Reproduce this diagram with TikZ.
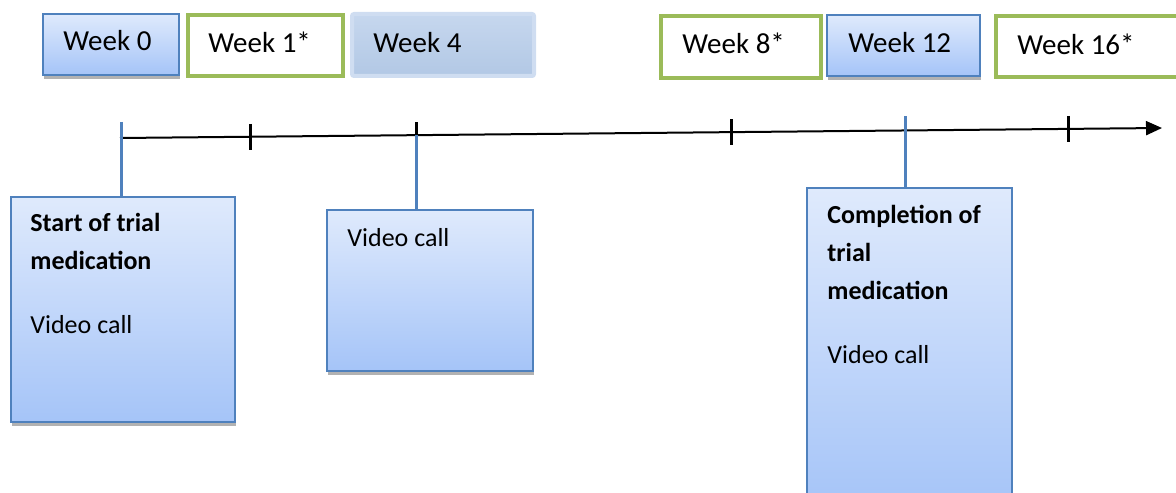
\documentclass[tikz,border=0pt]{standalone}
\usepackage{fontspec}
\setmainfont{Carlito}
\usetikzlibrary{
  arrows.meta,
  shadows,
  calc}

\definecolor{boxblue}{RGB}{79,129,189}
\definecolor{boxtop}{RGB}{223,234,252}
\definecolor{boxbot}{RGB}{165,196,248}
\definecolor{wkgreen}{RGB}{155,187,89}
\definecolor{wkgreytop}{RGB}{198,215,238}
\definecolor{wkgreybot}{RGB}{178,200,229}
\definecolor{wkedge}{RGB}{207,221,241}

\tikzset{
  bluebox/.style={draw=boxblue,line width=0.8pt,top color=boxtop,bottom color=boxbot,
    drop shadow={shadow xshift=0.5pt,shadow yshift=-2pt,opacity=.3,fill=black},
    anchor=north west,inner sep=0pt},
  greenbox/.style={draw=wkgreen,line width=2pt,fill=white,anchor=north west,inner sep=0pt},
  greybox/.style={draw=wkedge,line width=2pt,top color=wkgreytop,bottom color=wkgreybot,
    rounded corners=1pt,anchor=north west,inner sep=0pt},
  wk/.style={anchor=base west,inner sep=0pt,font=\fontsize{14.5}{17}\selectfont},
  note/.style={anchor=north west,inner sep=0pt,align=left,font=\fontsize{13}{19}\selectfont},
  tick/.style={line width=1.5pt},
  stem/.style={draw=boxblue,line width=1.5pt}
}

\begin{document}
\begin{tikzpicture}[x=0.5pt,y=-0.5pt]
\clip (0,0) rectangle (1176,492);

\node[bluebox,minimum width=68pt,minimum height=30.5pt] (w0) at (42,13) {};
\node[greenbox,minimum width=77.5pt,minimum height=30.5pt] (w1) at (186,13) {};
\node[greybox,minimum width=91pt,minimum height=31pt] (w4) at (350,12) {};
\node[greenbox,minimum width=80pt,minimum height=31pt] (w8) at (659,14) {};
\node[bluebox,minimum width=76.5pt,minimum height=30.5pt] (w12) at (826,14) {};
\node[greenbox,minimum width=120pt,minimum height=30.5pt] (w16) at (994,14) {};

\node[wk] (w0t) at ($(w0.north west)+(21,38)$) {Week 0};
\node[wk] (w1t) at ($(w1.north west)+(22,40)$) {Week 1*};
\node[wk] (w4t) at ($(w4.north west)+(23,41)$) {Week 4};
\node[wk] (w8t) at ($(w8.north west)+(23,40)$) {Week 8*};
\node[wk] (w12t) at ($(w12.north west)+(22,39)$) {Week 12};
\node[wk] (w16t) at ($(w16.north west)+(23,41)$) {Week 16*};

\coordinate (ax0) at (120,138);
\coordinate (ax1) at (1162,128);
\coordinate (s0) at ($(ax0)!0.001!(ax1)$);
\coordinate (t1) at ($(ax0)!0.1248!(ax1)$);
\coordinate (t2) at ($(ax0)!0.2841!(ax1)$);
\coordinate (t3) at ($(ax0)!0.5864!(ax1)$);
\coordinate (s3) at ($(ax0)!0.7534!(ax1)$);
\coordinate (t4) at ($(ax0)!0.9107!(ax1)$);

\draw[line width=1pt,-{Triangle[length=8pt,width=7pt]}] (ax0) -- (ax1);
\foreach \t in {t1,t2,t3,t4}
  \draw[tick] ($(\t)+(0,-13)$) -- ($(\t)+(0,13)$);

\node[bluebox,minimum width=112pt,minimum height=112.5pt] (start) at (10,196) {};
\node[bluebox,minimum width=103pt,minimum height=80.5pt] (call) at (326,209) {};
\node[bluebox,minimum width=102.5pt,minimum height=160pt] (done) at (806,187) {};

\node[note] (startt) at ($(start.north west)+(20,17)$)
  {\textbf{Start of trial}\\\textbf{medication}\\[13pt]Video call};
\node[note] (callt) at ($(call.north west)+(21,19)$) {Video call};
\node[note] (donet) at ($(done.north west)+(21,18)$)
  {\textbf{Completion of}\\\textbf{trial}\\\textbf{medication}\\[13pt]Video call};

\draw[stem] ($(s0)+(0,-16)$) -- (start.north -| s0);
\draw[stem] (t2) -- (call.north -| t2);
\draw[stem] ($(s3)+(0,-14)$) -- (done.north -| s3);
\end{tikzpicture}
\end{document}
